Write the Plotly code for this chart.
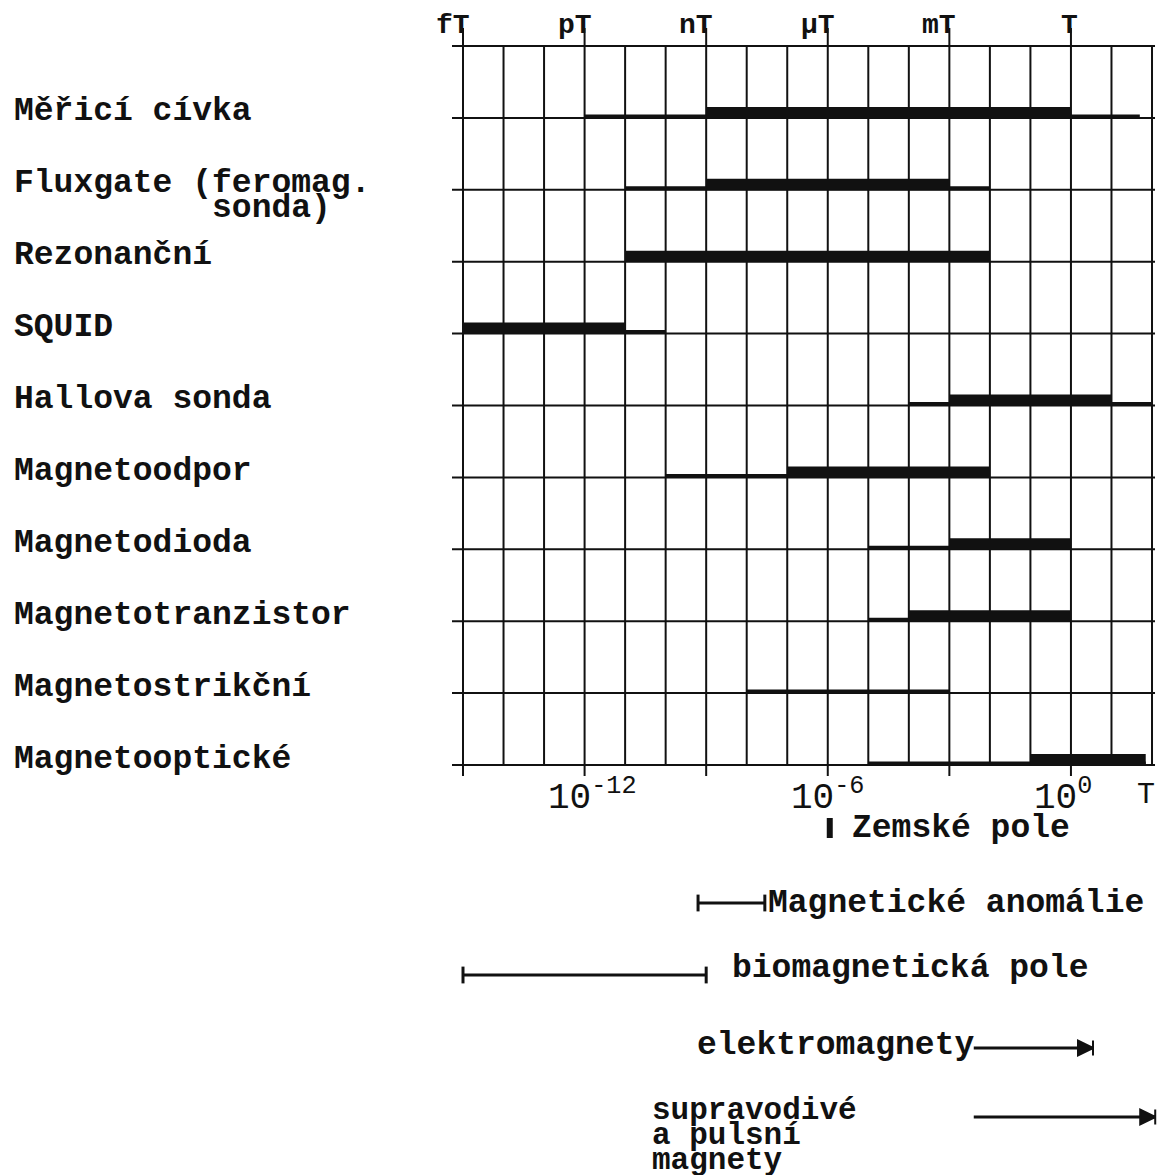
import math
import plotly.graph_objects as go

# ---------------- data (magnetic flux density in tesla) ----------------
sensors = ["Měřicí cívka", "Fluxgate (feromag.\n          sonda)", "Rezonanční", "SQUID",
           "Hallova sonda", "Magnetoodpor", "Magnetodioda", "Magnetotranzistor",
           "Magnetostrikční", "Magnetooptické"]
range_min = [1e-12, 1e-11, None, 1e-15, 1e-4, 1e-10, 1e-5, 1e-5, 1e-8, 1e-5]
range_max = [50, 1e-2, None, 1e-10, 100, 1e-2, 1, 1, 1e-3, 70]
typical_min = [1e-9, 1e-9, 1e-11, 1e-15, 1e-3, 1e-7, 1e-3, 1e-4, None, 1e-1]
typical_max = [1, 1e-3, 1e-2, 1e-11, 10, 1e-2, 1, 1, None, 70]

unit_labels = ["fT", "pT", "nT", "µT", "mT", "T"]
unit_values = [1e-15, 1e-12, 1e-9, 1e-6, 1e-3, 1]
decade_exponents = list(range(-15, 3))
bottom_tick_values = [1e-12, 1e-6, 1]
bottom_tick_labels = ["10<sup>-12</sup>", "10<sup>-6</sup>", "10<sup>0</sup>"]
axis_unit = "T"
axis_unit_value = 100

earth_field = 1.12e-6
earth_label = "Zemské pole"

field_names = ["Magnetické anomálie", "biomagnetická pole", "elektromagnety",
               "supravodivé\na pulsní\nmagnety"]
field_min = [6.3e-10, 1e-15, 4e-3, 4e-3]
field_max = [2.8e-8, 1e-9, 3.5, 120]

# ---------------- layout constants ----------------
PAGE_OFF = 8                 # default body margin of the html page
W, H = 1170 - PAGE_OFF, 1175 - PAGE_OFF
X0, DEC = 463.0 - PAGE_OFF, 40.53   # pixel of first decade, pixels per decade
Y0, ROW = 46.0 - PAGE_OFF, 71.9     # pixel of top grid line, pixels per row
LOG_LO = decade_exponents[0]
LOG_HI = decade_exponents[-1]
INK = "#111111"
FONT = "Liberation Mono"
LBL = 33


def px2y(p):
    """screen pixel (reference picture) -> y data"""
    return (p - PAGE_OFF - Y0) / ROW


def lg(v):
    return math.log10(v)


x_range = [LOG_LO - X0 / DEC, LOG_LO + (W - X0) / DEC]
y_range = [(H - Y0) / ROW, -Y0 / ROW]
n_rows = len(sensors)
row_y = [i + 1 for i in range(n_rows)]
field_row_y = [px2y(903), px2y(975), px2y(1048), px2y(1117)]
earth_y = px2y(828)

fig = go.Figure()


def add_lines(xs, ys, width):
    fig.add_trace(go.Scatter(x=xs, y=ys, mode="lines", hoverinfo="skip",
                             line=dict(color=INK, width=width), showlegend=False,
                             cliponaxis=False))


# horizontal grid (row baselines + top border)
hx, hy = [], []
x_left = 10 ** (LOG_LO - 11 / DEC)
x_right = 10 ** (LOG_HI + 3 / DEC)
for r in range(0, n_rows + 1):
    hx += [x_left, x_right, None]
    hy += [r, r, None]
add_lines(hx, hy, 2)

# vertical decade grid
vx, vy = [], []
for e in decade_exponents:
    vx += [10 ** e, 10 ** e, None]
    vy += [0, n_rows, None]
add_lines(vx, vy, 2)

# major ticks (top and bottom)
tx, ty = [], []
for v in unit_values:
    tx += [v, v, None, v, v, None]
    ty += [px2y(28), 0, None, n_rows, px2y(776), None]
add_lines(tx, ty, 2)

# full measuring range (medium lines)
mx, my = [], []
for i in range(n_rows):
    if range_min[i] is not None:
        yy = row_y[i] - 1.5 / ROW
        mx += [range_min[i], range_max[i], None]
        my += [yy, yy, None]
add_lines(mx, my, 4)

# typical range (thick lines)
kx, ky = [], []
for i in range(n_rows):
    if typical_min[i] is not None:
        yy = row_y[i] - 5.5 / ROW
        kx += [typical_min[i], typical_max[i], None]
        ky += [yy, yy, None]
add_lines(kx, ky, 11)

# Earth field marker
add_lines([earth_field, earth_field], [earth_y - 10 / ROW, earth_y + 10 / ROW], 6)

# field ranges below the chart
for i in range(len(field_names)):
    add_lines([field_min[i], field_max[i]], [field_row_y[i]] * 2, 3)

# end caps for first two ranges
cap_x, cap_y = [], []
for i in range(2):
    cap_x += [field_min[i], field_max[i]]
    cap_y += [field_row_y[i]] * 2
fig.add_trace(go.Scatter(x=cap_x, y=cap_y, mode="markers", hoverinfo="skip", showlegend=False,
                         cliponaxis=False,
                         marker=dict(symbol="line-ns", size=12, color=INK,
                                     line=dict(width=3, color=INK))))
# arrows for magnets
fig.add_trace(go.Scatter(x=[field_max[2], field_max[3]], y=[field_row_y[2], field_row_y[3]],
                         mode="markers", hoverinfo="skip", showlegend=False, cliponaxis=False,
                         marker=dict(symbol="arrow-bar-right", size=15, color=INK,
                                     line=dict(width=2, color=INK))))

annotations = []
NB = "\u00a0"

# sensor labels
for i, name in enumerate(sensors):
    for k, line in enumerate(name.split("\n")):
        annotations.append(dict(
            x=(12 - PAGE_OFF) / W, xref="paper", y=row_y[i], yref="y", text=line.replace(" ", NB),
            showarrow=False, xanchor="left", yanchor="middle", yshift=6 - 25 * k,
            font=dict(family=FONT, size=LBL, color=INK, weight="bold")))

# top unit labels
for v, t in zip(unit_values, unit_labels):
    annotations.append(dict(
        x=lg(v), xref="x", y=px2y(25), yref="y", text=t, showarrow=False,
        xanchor="right", xshift=9, yanchor="middle",
        font=dict(family=FONT, size=28, color=INK, weight="bold")))

# bottom tick labels
for v, t in zip(bottom_tick_values, bottom_tick_labels):
    annotations.append(dict(
        x=lg(v), xref="x", y=px2y(795), yref="y", text=t, showarrow=False,
        xanchor="left", xshift=-39, yanchor="middle",
        font=dict(family=FONT, size=36, color=INK)))
annotations.append(dict(
    x=lg(axis_unit_value), xref="x", y=px2y(795), yref="y", text=axis_unit, showarrow=False,
    xanchor="center", xshift=-6, yanchor="middle",
    font=dict(family=FONT, size=30, color=INK)))

# Earth field label
annotations.append(dict(
    x=lg(earth_field), xref="x", y=earth_y, yref="y", text=earth_label.replace(" ", NB),
    showarrow=False, xanchor="left", xshift=20, yanchor="middle",
    font=dict(family=FONT, size=LBL, color=INK, weight="bold")))

# field range labels
annotations.append(dict(
    x=lg(field_max[0]), xref="x", y=field_row_y[0], yref="y", text=field_names[0].replace(" ", NB),
    showarrow=False, xanchor="left", xshift=1, yanchor="middle",
    font=dict(family=FONT, size=LBL, color=INK, weight="bold")))
annotations.append(dict(
    x=lg(field_max[1]), xref="x", y=field_row_y[1], yref="y", text=field_names[1].replace(" ", NB),
    showarrow=False, xanchor="left", xshift=24, yshift=7, yanchor="middle",
    font=dict(family=FONT, size=LBL, color=INK, weight="bold")))
annotations.append(dict(
    x=lg(field_min[2]), xref="x", y=field_row_y[2], yref="y", text=field_names[2].replace(" ", NB),
    showarrow=False, xanchor="right", xshift=2, yshift=3, yanchor="middle",
    font=dict(family=FONT, size=LBL, color=INK, weight="bold")))
for k, line in enumerate(field_names[3].split("\n")):
    annotations.append(dict(
        x=(650 - PAGE_OFF) / W, xref="paper", y=field_row_y[3], yref="y", text=line.replace(" ", NB),
        showarrow=False, xanchor="left", yshift=7 - 25 * k, yanchor="middle",
        font=dict(family=FONT, size=31, color=INK, weight="bold")))

fig.update_layout(
    width=W, height=H,
    margin=dict(l=0, r=0, t=0, b=0),
    paper_bgcolor="white", plot_bgcolor="white",
    showlegend=False,
    xaxis=dict(type="log", range=x_range, visible=False, fixedrange=True),
    yaxis=dict(range=y_range, visible=False, fixedrange=True),
    annotations=annotations,
)

fig.write_html("out.html")
